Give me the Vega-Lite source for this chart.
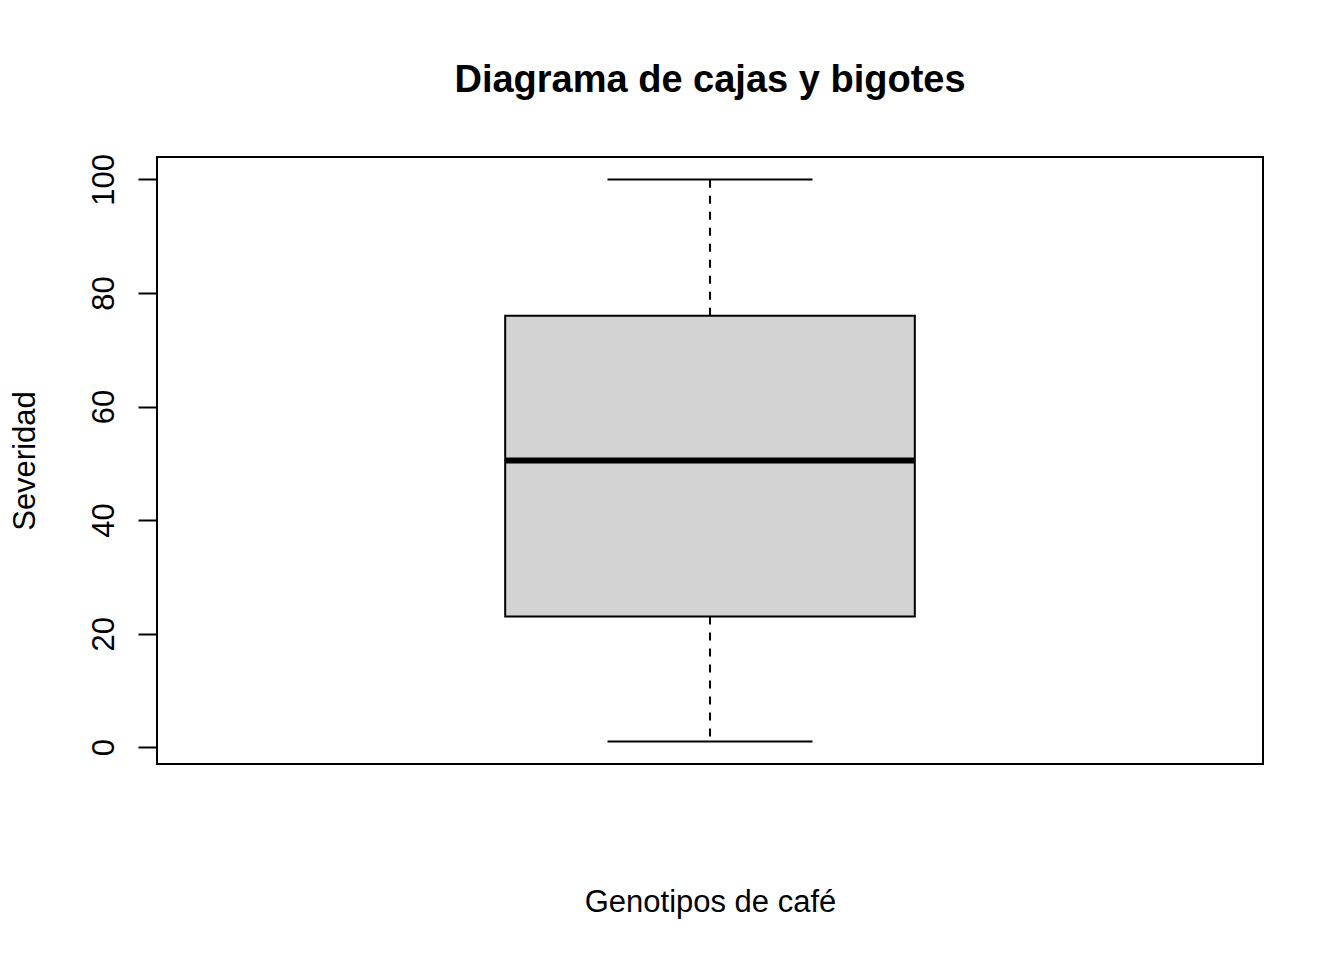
{
  "$schema": "https://vega.github.io/schema/vega-lite/v6.json",
  "width": 1106,
  "height": 607,
  "autosize": "none",
  "padding": {"left": 157, "top": 157, "right": 81, "bottom": 196},
  "background": "white",
  "config": {
    "view": {"stroke": "black", "strokeWidth": 2},
    "font": "Liberation Sans",
    "axis": {"grid": false}
  },
  "title": {
    "text": "Diagrama de cajas y bigotes",
    "font": "Liberation Sans",
    "fontSize": 38,
    "fontWeight": "bold",
    "color": "black",
    "anchor": "middle",
    "baseline": "alphabetic",
    "offset": 24
  },
  "data": {
    "values": [
      {"genotipo": "Café", "min": 1, "q1": 23, "median": 50.5, "q3": 76, "max": 100}
    ]
  },
  "encoding": {
    "x": {
      "field": "genotipo",
      "type": "nominal",
      "scale": {"paddingInner": 0, "paddingOuter": 0.85},
      "axis": {
        "title": "Genotipos de café",
        "labels": false,
        "ticks": false,
        "domain": false,
        "titleFont": "Liberation Sans",
        "titleFontSize": 31,
        "titleFontWeight": "normal",
        "titleColor": "black",
        "titleBaseline": "alphabetic",
        "titlePadding": 147
      }
    }
  },
  "layer": [
    {
      "mark": {"type": "rule", "color": "black", "opacity": 1, "strokeWidth": 2, "strokeDash": [8, 8]},
      "encoding": {
        "y": {
          "field": "q1",
          "type": "quantitative",
          "scale": {"domain": [-2.96, 103.96], "nice": false, "zero": false},
          "axis": {
            "title": "Severidad",
            "values": [0, 20, 40, 60, 80, 100],
            "domain": false,
            "tickSize": 19,
            "tickWidth": 2,
            "tickColor": "black",
            "labelAngle": -90,
            "labelAlign": "center",
            "labelBaseline": "alphabetic",
            "labelPadding": 25,
            "labelFont": "Liberation Sans",
            "labelFontSize": 31,
            "labelColor": "black",
            "titleFont": "Liberation Sans",
            "titleFontSize": 31,
            "titleFontWeight": "normal",
            "titleColor": "black",
            "titlePadding": 47
          }
        },
        "y2": {"field": "min"}
      }
    },
    {
      "mark": {"type": "rule", "color": "black", "opacity": 1, "strokeWidth": 2, "strokeDash": [8, 8]},
      "encoding": {
        "y": {"field": "q3", "type": "quantitative"},
        "y2": {"field": "max"}
      }
    },
    {
      "mark": {"type": "bar", "fill": "#d3d3d3", "opacity": 1, "stroke": "black", "strokeWidth": 2},
      "encoding": {
        "y": {"field": "q1", "type": "quantitative"},
        "y2": {"field": "q3"}
      }
    },
    {
      "mark": {"type": "tick", "color": "black", "opacity": 1, "size": 410, "thickness": 6},
      "encoding": {
        "y": {"field": "median", "type": "quantitative"}
      }
    },
    {
      "mark": {"type": "tick", "color": "black", "opacity": 1, "size": 205, "thickness": 2},
      "encoding": {
        "y": {"field": "min", "type": "quantitative"}
      }
    },
    {
      "mark": {"type": "tick", "color": "black", "opacity": 1, "size": 205, "thickness": 2},
      "encoding": {
        "y": {"field": "max", "type": "quantitative"}
      }
    }
  ]
}
